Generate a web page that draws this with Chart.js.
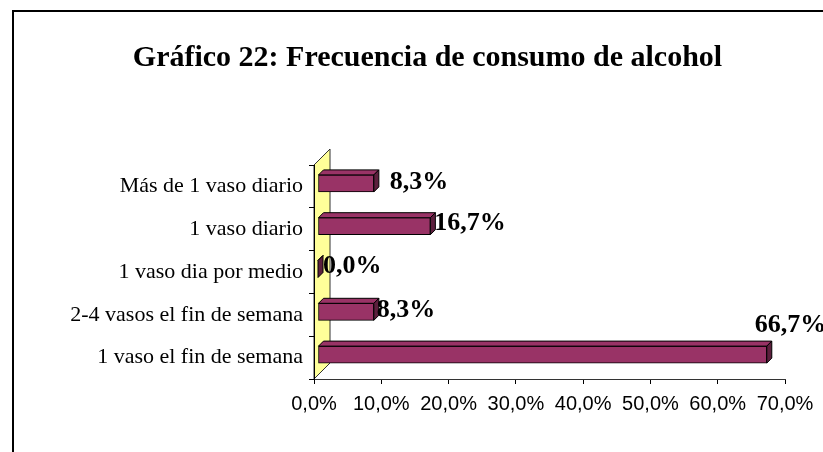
<!DOCTYPE html>
<html lang="es">
<head>
  <meta charset="UTF-8" />
  <title>Gráfico 22: Frecuencia de consumo de alcohol</title>
  <script src="https://cdn.jsdelivr.net/npm/chart.js"></script>
  <style>
    html, body { margin: 0; padding: 0; background: #fff; }
    canvas { display: block; }
  </style>
</head>
<body>
  <canvas id="grafico" width="823" height="452"></canvas>

  <script>
    // Datos del gráfico
    const categorias = [
      'Más de 1 vaso diario',
      '1 vaso diario',
      '1 vaso dia por medio',
      '2-4 vasos el fin de semana',
      '1 vaso el fin de semana'
    ];
    const porcentajes = [8.3, 16.7, 0.0, 8.3, 66.7];
    const ejeMin = 0;
    const ejeMax = 70;
    const ejePaso = 10;

    const fmt = v => v.toFixed(1).replace('.', ',') + '%';

    // marco, pared amarilla, caras 3D y etiquetas
    const efecto3D = {
      id: 'efecto3D',
      beforeDraw(chart) {
        const ctx = chart.ctx;
        const a = chart.chartArea;
        const p = chart.options.plugins.efecto3D;
        ctx.save();
        ctx.strokeStyle = '#000';
        ctx.lineWidth = 2;
        ctx.beginPath();
        ctx.moveTo(13, chart.height);
        ctx.lineTo(13, 11);
        ctx.lineTo(chart.width, 11);
        ctx.stroke();

        const w = p.pared;
        ctx.beginPath();
        ctx.moveTo(a.left, a.top);
        ctx.lineTo(a.left + w, a.top - w);
        ctx.lineTo(a.left + w, a.bottom - w);
        ctx.lineTo(a.left, a.bottom);
        ctx.closePath();
        ctx.fillStyle = '#FFFF99';
        ctx.fill();
        ctx.lineWidth = 1;
        ctx.strokeStyle = '#333';
        ctx.stroke();
        ctx.restore();
      },
      beforeDatasetsDraw(chart) {
        const p = chart.options.plugins.efecto3D;
        chart.ctx.save();
        chart.ctx.translate(p.desplaza[0], p.desplaza[1]);
      },
      afterDatasetsDraw(chart) {
        const ctx = chart.ctx;
        const p = chart.options.plugins.efecto3D;
        const d = p.fondo;
        chart.getDatasetMeta(0).data.forEach(el => {
          const top = el.y - el.height / 2;
          const bot = el.y + el.height / 2;
          ctx.lineWidth = 1;
          ctx.strokeStyle = '#000';
          // cara superior
          ctx.beginPath();
          ctx.moveTo(el.base, top);
          ctx.lineTo(el.base + d, top - d);
          ctx.lineTo(el.x + d, top - d);
          ctx.lineTo(el.x, top);
          ctx.closePath();
          ctx.fillStyle = '#993366';
          ctx.fill();
          ctx.stroke();
          // cara lateral
          ctx.beginPath();
          ctx.moveTo(el.x, top);
          ctx.lineTo(el.x + d, top - d);
          ctx.lineTo(el.x + d, bot - d);
          ctx.lineTo(el.x, bot);
          ctx.closePath();
          ctx.fillStyle = '#5c1f3d';
          ctx.fill();
          ctx.stroke();
        });
        ctx.restore();

        // etiquetas de datos
        ctx.save();
        ctx.font = 'bold 26px "Liberation Serif", "Times New Roman", serif';
        ctx.fillStyle = '#000';
        ctx.textAlign = 'left';
        ctx.textBaseline = 'middle';
        chart.getDatasetMeta(0).data.forEach((el, i) => {
          const n = p.ajusteEtiquetas[i];
          ctx.fillText(fmt(porcentajes[i]), el.x + n[0], el.y + n[1]);
        });
        ctx.restore();
      }
    };

    new Chart(document.getElementById('grafico'), {
      type: 'bar',
      data: {
        labels: categorias,
        datasets: [{
          data: porcentajes,
          backgroundColor: '#993366',
          borderColor: '#000',
          borderWidth: 1,
          borderSkipped: false,
          barThickness: 17
        }]
      },
      plugins: [efecto3D],
      options: {
        indexAxis: 'y',
        responsive: false,
        animation: false,
        layout: { padding: { left: 70, right: 38, top: 0, bottom: 0 } },
        plugins: {
          legend: { display: false },
          tooltip: { enabled: false },
          title: {
            display: true,
            text: 'Gráfico 22: Frecuencia de consumo de alcohol',
            color: '#000',
            font: { family: '"Liberation Serif", "Times New Roman", serif', size: 30, weight: 'bold' },
            padding: { top: 40, bottom: 89 }
          },
          efecto3D: {
            pared: 16,
            fondo: 5,
            desplaza: [4, -3],
            ajusteEtiquetas: [[20, -4], [8, -6], [9, -5.5], [7, -5], [-8, -32]]
          }
        },
        scales: {
          x: {
            min: ejeMin,
            max: ejeMax,
            afterFit(scale) { scale.height = 73; },
            ticks: {
              stepSize: ejePaso,
              color: '#000',
              padding: 8,
              maxRotation: 0,
              font: { family: '"Liberation Sans", Arial, sans-serif', size: 20 },
              callback: v => fmt(v)
            },
            grid: { drawOnChartArea: false, drawTicks: true, tickLength: 5, color: '#000' },
            border: { color: '#333', width: 1 }
          },
          y: {
            afterFit(scale) { scale.width = 244; },
            ticks: {
              color: '#000',
              padding: 6,
              font: { family: '"Liberation Serif", "Times New Roman", serif', size: 22 }
            },
            grid: { drawOnChartArea: false, drawTicks: true, tickLength: 5, color: '#000', offset: true },
            border: { color: '#000', width: 1 }
          }
        }
      }
    });
  </script>
</body>
</html>
